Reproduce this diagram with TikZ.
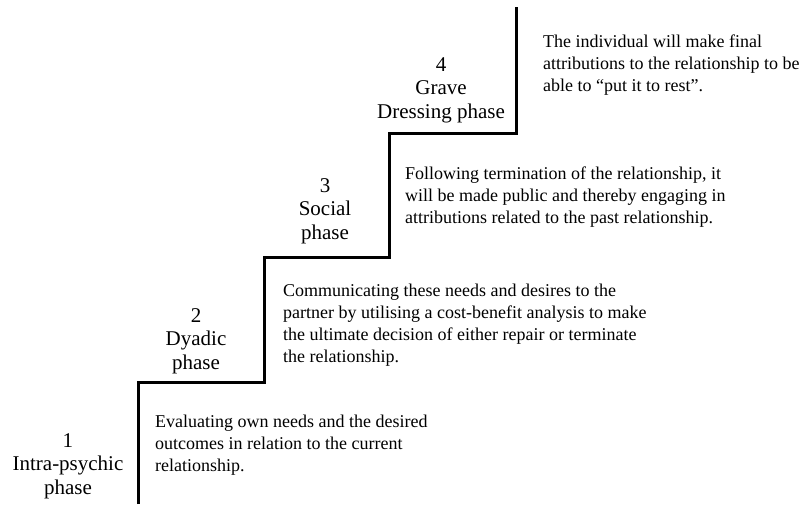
\documentclass[tikz,border=0pt]{standalone}
\usepackage{fontspec}
\setmainfont{Liberation Serif}
\begin{document}
\begin{tikzpicture}[x=1pt,y=-1pt,
  phaselabel/.style={align=center,inner sep=0pt,anchor=base,font=\fontsize{21}{23.5}\selectfont},
  desc/.style={align=left,inner sep=0pt,anchor=base west,font=\fontsize{18}{21.7}\selectfont},
  stair/.style={line width=3pt,line cap=butt,line join=miter}]
\useasboundingbox (0,0) rectangle (805,504);
\coordinate (s0) at (138,504);
\coordinate (s1) at (138,382);
\coordinate (s2) at (264,382);
\coordinate (s3) at (264,257);
\coordinate (s4) at (389,257);
\coordinate (s5) at (389,133);
\coordinate (s6) at (516,133);
\coordinate (s7) at (516,7);
\draw[stair] (s0) -- (s1) -- (s2) -- (s3) -- (s4) -- (s5) -- (s6) -- (s7);
% anchors give the baseline of the last line
\node[phaselabel] (p1) at (68,494) {1\\Intra-psychic\\phase};
\node[phaselabel] (p2) at (196,369) {2\\Dyadic\\phase};
\node[phaselabel] (p3) at (325,239) {3\\Social\\phase};
\node[phaselabel] (p4) at (441,118) {4\\Grave\\Dressing phase};
\node[desc] (d1) at (155,471) {Evaluating own needs and the desired\\outcomes in relation to the current\\relationship.};
\node[desc] (d2) at (283,362) {Communicating these needs and desires to the\\partner by utilising a cost-benefit analysis to make\\the ultimate decision of either repair or terminate\\the relationship.};
\node[desc] (d3) at (405,223) {Following termination of the relationship, it\\will be made public and thereby engaging in\\attributions related to the past relationship.};
\node[desc] (d4) at (543,91) {The individual will make final\\attributions to the relationship to be\\able to \textquotedblleft put it to rest\textquotedblright.};
\end{tikzpicture}
\end{document}
